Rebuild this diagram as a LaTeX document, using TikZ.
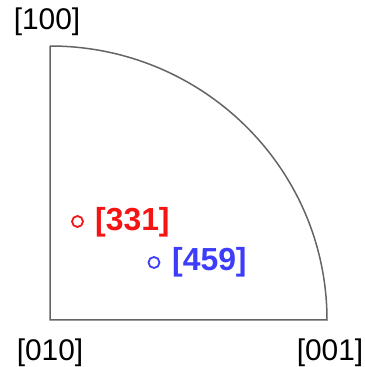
\documentclass[tikz,border=0pt]{standalone}
\usepackage{fontspec}
\setmainfont{Liberation Sans}
\definecolor{ptred}{RGB}{245,20,20}
\definecolor{ptblue}{RGB}{60,60,250}
\definecolor{edgegray}{RGB}{100,100,100}
\begin{document}
\begin{tikzpicture}[x=1bp,y=1bp,
  lbl/.style={inner sep=0pt,font=\fontsize{30}{31}\selectfont},
  pole/.style={lbl,font=\fontsize{32}{33}\selectfont\bfseries,anchor=west},
  mark circ/.style={circle,draw,line width=1.8bp,minimum size=11bp,inner sep=0pt},
  edge/.style={draw=edgegray,line width=1.5bp}]
\useasboundingbox (0,0) rectangle (365,367);
\coordinate (o) at (50,47);
\coordinate (t) at (50,321);
\coordinate (r) at (327,47);
\path[edge] (t) -- (o) -- (r) arc[start angle=0,end angle=90,x radius=277,y radius=274];
\node[lbl] (l100) at (47,345) {[100]};
\node[lbl] (l010) at (50,14) {[010]};
\node[lbl] (l001) at (330,14) {[001]};
\node[mark circ,draw=ptred] (c331) at (77.5,145.5) {};
\node[pole,text=ptred] (t331) at (95,145) {[331]};
\node[mark circ,draw=ptblue] (c459) at (154,104.5) {};
\node[pole,text=ptblue] (t459) at (172,105) {[459]};
\end{tikzpicture}
\end{document}
